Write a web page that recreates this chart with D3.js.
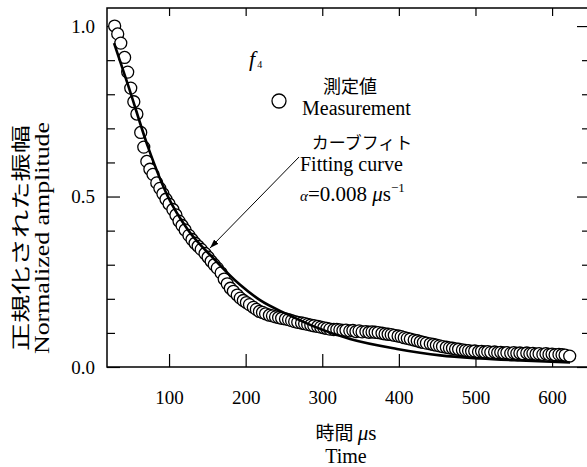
<!DOCTYPE html>
<html><head><meta charset="utf-8">
<script src="https://cdn.jsdelivr.net/npm/d3@7"></script>
<style>body{margin:0;background:#fff} svg{display:block}</style>
</head><body><svg id="c" width="587" height="467"></svg>
<script>
// ---- data ----
const measTime = [
  29,33,37,42,46,50,54,58,63,67,
  71,75,79,84,88,92,96,100,105,109,
  113,117,121,126,130,134,138,142,147,151,
  155,159,163,168,172,176,180,184,189,193,
  197,201,205,210,214,218,222,226,231,235,
  239,243,247,252,256,260,264,268,273,277,
  281,285,289,294,298,302,306,310,315,319,
  323,327,331,336,340,344,348,352,357,361,
  365,369,373,378,382,386,390,394,399,403,
  407,411,415,420,424,428,432,436,441,445,
  449,453,457,462,466,470,474,478,483,487,
  491,495,499,504,508,512,516,520,525,529,
  533,537,541,546,550,554,558,562,567,571,
  575,579,583,588,592,596,600,604,609,613,
  617,623
];
const measAmp = [
  1.000,0.977,0.950,0.908,0.865,0.818,0.778,0.742,0.688,0.645,
  0.603,0.580,0.565,0.540,0.524,0.508,0.492,0.478,0.462,0.446,
  0.428,0.415,0.402,0.386,0.374,0.363,0.354,0.345,0.333,0.322,
  0.310,0.300,0.290,0.276,0.258,0.244,0.231,0.222,0.211,0.202,
  0.195,0.189,0.183,0.175,0.169,0.163,0.160,0.156,0.152,0.150,
  0.147,0.145,0.143,0.141,0.139,0.136,0.133,0.131,0.129,0.127,
  0.125,0.123,0.121,0.119,0.117,0.115,0.113,0.111,0.110,0.110,
  0.109,0.107,0.108,0.106,0.107,0.104,0.106,0.103,0.104,0.102,
  0.103,0.102,0.101,0.099,0.097,0.096,0.095,0.093,0.091,0.089,
  0.086,0.084,0.082,0.079,0.077,0.074,0.072,0.070,0.068,0.066,
  0.064,0.062,0.060,0.058,0.056,0.055,0.053,0.052,0.050,0.049,
  0.048,0.046,0.047,0.045,0.046,0.044,0.045,0.043,0.044,0.042,
  0.043,0.041,0.042,0.040,0.042,0.040,0.041,0.039,0.041,0.039,
  0.040,0.038,0.039,0.037,0.039,0.037,0.038,0.036,0.037,0.036,
  0.035,0.032
];
const fitTime = [28.2,46.5,72.6,98.7,124.8,157.4,192.7,218.8,254.0,288.0,336.3,397.6,454,506,558,623.5];
const fitAmp  = [0.950,0.827,0.645,0.499,0.402,0.320,0.241,0.196,0.155,0.120,0.082,0.053,0.034,0.025,0.019,0.013];
const xTicks = [100,200,300,400,500,600];
const yMajor = [0.0,0.5,1.0];
const yMinor = [0.1,0.2,0.3,0.4,0.6,0.7,0.8,0.9];
const arrowFrom = [269.7, 0.616];
const arrowTo = [153.5, 0.349];

// ---- drawing ----
const LAT = "'Liberation Serif','Times New Roman',serif";
const JP = "'Noto Sans CJK JP','Noto Sans CJK SC',sans-serif";
const svg = d3.select("#c");
const L = 107, R = 590, T = 8, B = 367;
const x = d3.scaleLinear().domain([19, 649.5]).range([L, R]);
const y = d3.scaleLinear().domain([0, 1.053]).range([B, T]);

function styleAxis(g){
  g.attr("font-family", null).attr("font-size", null);
  g.select(".domain").remove();
  g.selectAll("line").attr("stroke","#000").attr("stroke-width",1.2);
  g.selectAll("text").style("font-family",LAT).style("font-size","19px").attr("fill","#000");
}
svg.append("g").attr("transform",`translate(0,${B})`)
  .call(d3.axisBottom(x).tickValues(xTicks).tickSize(-13).tickPadding(24).tickFormat(d3.format("d"))).call(styleAxis);
svg.append("g").attr("transform",`translate(0,${T})`)
  .call(d3.axisTop(x).tickValues(xTicks).tickSize(-8).tickFormat("")).call(styleAxis);
svg.append("g").attr("transform",`translate(${L},0)`)
  .call(d3.axisLeft(y).tickValues(yMajor).tickSize(-13).tickPadding(12).tickFormat(d3.format(".1f"))).call(styleAxis);
svg.append("g").attr("transform",`translate(${L},0)`)
  .call(d3.axisLeft(y).tickValues(yMinor).tickSize(-8).tickFormat("")).call(styleAxis);
svg.append("g").attr("transform",`translate(${R},0)`)
  .call(d3.axisRight(y).tickValues(yMajor).tickSize(-13).tickFormat("")).call(styleAxis);
svg.append("g").attr("transform",`translate(${R},0)`)
  .call(d3.axisRight(y).tickValues(yMinor).tickSize(-8).tickFormat("")).call(styleAxis);

svg.append("rect").attr("x",L).attr("y",T).attr("width",R-L).attr("height",B-T)
  .attr("fill","none").attr("stroke","#000").attr("stroke-width",1.5);

// measurement circles
const meas = measTime.map((t,i)=>({t, v: measAmp[i]}));
svg.append("g").selectAll("circle").data(meas).join("circle")
  .attr("cx",d=>x(d.t)).attr("cy",d=>y(d.v)).attr("r",6)
  .attr("fill","#fff").attr("stroke","#000").attr("stroke-width",1.3);

// fitting curve
const fit = fitTime.map((t,i)=>({t, v: fitAmp[i]}));
svg.append("path").datum(fit)
  .attr("d", d3.line().x(d=>x(d.t)).y(d=>y(d.v)).curve(d3.curveMonotoneX))
  .attr("fill","none").attr("stroke","#000").attr("stroke-width",2.6);

// arrow
svg.append("defs").append("marker").attr("id","ah").attr("markerUnits","userSpaceOnUse")
  .attr("markerWidth",10).attr("markerHeight",8).attr("refX",9).attr("refY",3).attr("orient","auto")
  .append("path").attr("d","M0,0 L9,3 L0,6 Z").attr("fill","#000");
svg.append("line")
  .attr("x1",x(arrowFrom[0])).attr("y1",y(arrowFrom[1]))
  .attr("x2",x(arrowTo[0])).attr("y2",y(arrowTo[1]))
  .attr("stroke","#000").attr("stroke-width",1).attr("marker-end","url(#ah)");

// annotations
const f4 = svg.append("text").attr("x",249).attr("y",66).style("font-family",LAT).style("font-size","22px").style("font-style","italic");
f4.append("tspan").text("f");
f4.append("tspan").style("font-size","10px").style("font-style","normal").attr("dx",2).attr("dy",2).text("4");

svg.append("circle").attr("cx",279).attr("cy",101).attr("r",7)
  .attr("fill","#fff").attr("stroke","#000").attr("stroke-width",1.3);
svg.append("text").attr("x",350).attr("y",93).attr("text-anchor","middle")
  .style("font-family",JP).style("font-size","18px").text("測定値");
svg.append("text").attr("x",302).attr("y",115)
  .style("font-family",LAT).style("font-size","20px").text("Measurement");
svg.append("text").attr("x",362).attr("y",149).attr("text-anchor","middle")
  .style("font-family",JP).style("font-size","17px").text("カーブフィト");
svg.append("text").attr("x",300).attr("y",171)
  .style("font-family",LAT).style("font-size","20px").text("Fitting curve");
const al = svg.append("text").attr("x",300).attr("y",201).style("font-family",LAT).style("font-size","21px");
al.append("tspan").style("font-style","italic").style("font-size","15px").text("α");
al.append("tspan").text("=0.008 ");
al.append("tspan").style("font-style","italic").text("μ");
al.append("tspan").text("s");
al.append("tspan").style("font-size","13px").attr("dy",-9).text("−1");

// axis titles
const xl = svg.append("text").attr("x",346).attr("y",440).attr("text-anchor","middle");
xl.append("tspan").style("font-family",JP).style("font-size","19px").text("時間 ");
xl.append("tspan").style("font-family",LAT).style("font-size","21px").style("font-style","italic").text("μ");
xl.append("tspan").style("font-family",LAT).style("font-size","21px").text("s");
svg.append("text").attr("x",346).attr("y",463).attr("text-anchor","middle")
  .style("font-family",LAT).style("font-size","20px").text("Time");

svg.append("text").attr("transform","translate(19,238) rotate(-90)").attr("text-anchor","middle")
  .attr("dominant-baseline","central").style("font-family",JP).style("font-size","19px")
  .attr("textLength",226).attr("lengthAdjust","spacingAndGlyphs").text("正規化された振幅");
svg.append("text").attr("transform","translate(49,238) rotate(-90)").attr("text-anchor","middle")
  .style("font-family",LAT).style("font-size","21px")
  .attr("textLength",232).attr("lengthAdjust","spacingAndGlyphs").text("Normalized amplitude");
</script></body></html>
